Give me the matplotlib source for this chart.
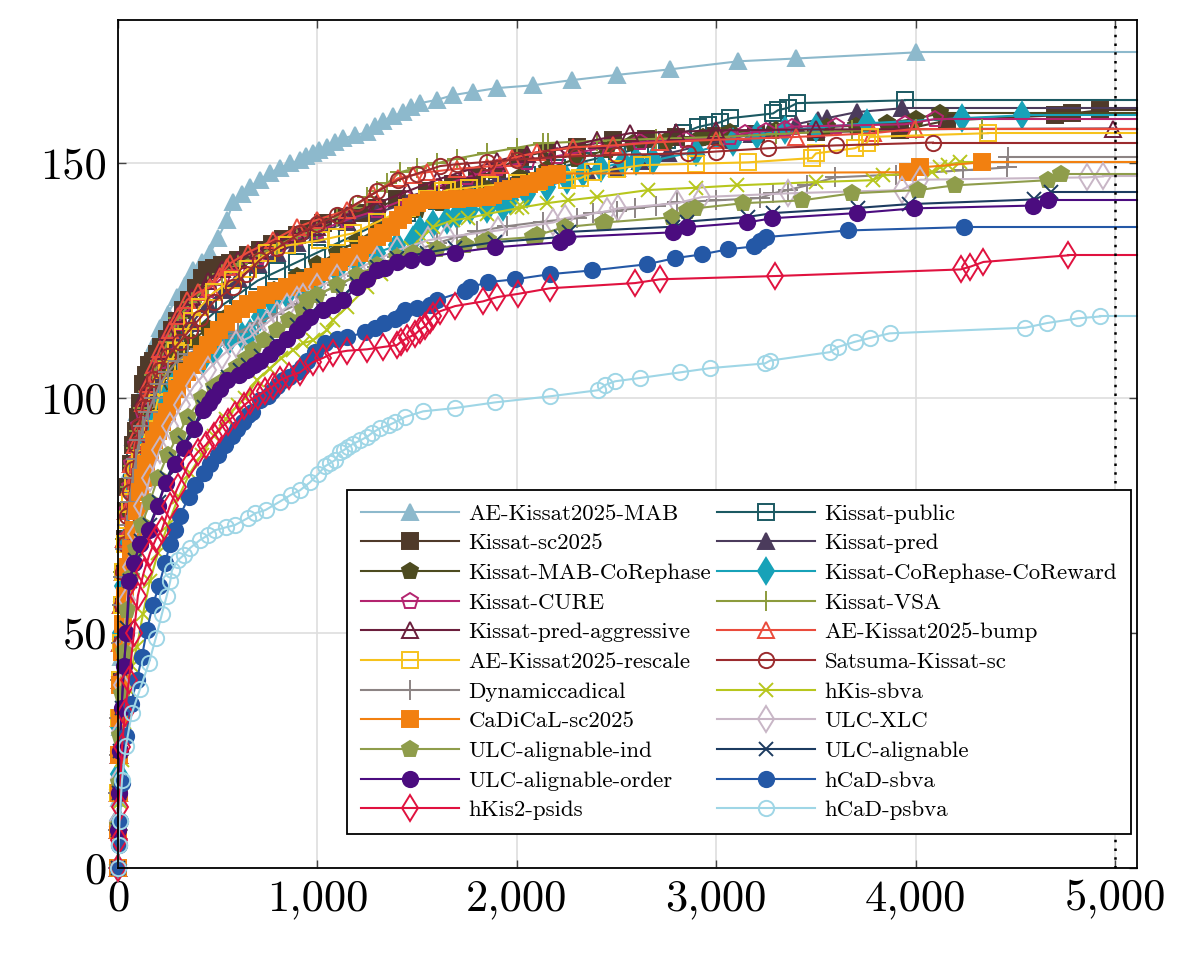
import matplotlib
matplotlib.use("Agg")
import matplotlib.pyplot as plt
from matplotlib.ticker import FuncFormatter

plt.rcParams["font.family"] = ["cmr10", "DejaVu Serif"]
plt.rcParams["axes.formatter.use_mathtext"] = True

X_MAX = 5110
Y_MAX = 180.5
TIMEOUT = 5000

# solve time (s) / number of solved instances
ae_mab_x = [0, 3, 8, 15, 25, 40, 60, 75, 95, 110, 135, 160, 185, 210, 250, 296, 336, 376, 420, 461, 500, 547, 577, 620, 662, 712, 762, 813, 863, 913, 945, 978, 1010, 1048, 1090, 1128, 1190, 1249, 1290, 1329, 1380, 1429, 1470, 1515, 1600, 1680, 1780, 1900, 2081, 2277, 2500, 2770, 3110, 3400, 4000]
ae_mab_y = [0, 15, 30, 45, 58, 70, 84.7, 91.7, 97, 100.2, 105, 109.6, 112, 115, 118, 121.5, 124, 127.2, 129, 130.8, 134, 137.9, 141.7, 143.5, 145, 146.5, 148, 149, 150, 150.6, 151.5, 152.1, 152.8, 153.4, 154.5, 155.3, 156, 156.6, 158, 159.1, 160, 160.9, 162, 162.8, 163.5, 164.5, 165.2, 166, 166.6, 167.7, 168.8, 170, 171.7, 172.3, 173.6]

kissat_public_x = [0, 1, 3, 5, 8, 12, 17, 24, 32, 42, 54, 68, 84, 100, 125, 150, 180, 210, 250, 300, 360, 450, 530, 600, 700, 800, 900, 1000, 1150, 1300, 1450, 1600, 1750, 1900, 2050, 2200, 2350, 2500, 2620, 2753, 2833, 2908, 2960, 3020, 3070, 3285, 3310, 3360, 3405, 3945]
kissat_public_y = [0, 8, 16, 24, 32, 40, 48, 56, 63, 70, 76, 82, 87, 91, 94, 97, 100, 103, 106, 110, 113.5, 117, 120, 122, 125, 127, 129, 131, 134, 137, 139.5, 142, 144, 146, 147.5, 149, 150.5, 152, 153.2, 154.9, 156.4, 157.7, 158.2, 158.7, 159.6, 160.6, 161.3, 161.8, 162.8, 163.4]

kissat_sc2025_x = [0, 1, 2, 4, 6, 9, 13, 18, 25, 33, 42, 52, 64, 76, 88, 100, 112, 125, 140, 158, 175, 195, 215, 246, 270, 296, 326, 355, 390, 420, 446, 480, 520, 560, 600, 650, 712, 770, 830, 898, 960, 1030, 1128, 1210, 1299, 1400, 1550, 1680, 1800, 1900, 2016, 2150, 2300, 2482, 2650, 2800, 3000, 3200, 3500, 3920, 4157, 4700, 4785, 4925]
kissat_sc2025_y = [0, 8, 16, 24, 32, 40, 48, 56, 63, 70, 76, 81, 86, 90, 93, 96, 99, 103, 105, 107, 108, 109.5, 110.9, 112.5, 114.5, 116.5, 118.7, 121, 123.5, 125.5, 127.2, 127.8, 128.3, 128.8, 129.5, 130.5, 131.5, 132.8, 133.8, 134.8, 136, 137.2, 138.5, 139.5, 140.5, 142.3, 144, 145.6, 147, 148.5, 151.3, 152.5, 153.5, 154.9, 155.2, 155.5, 155.8, 156.3, 156.6, 157, 159.1, 160.2, 160.6, 161.3]

kissat_pred_x = [0, 1, 3, 5, 8, 12, 17, 24, 33, 44, 57, 72, 90, 108, 125, 150, 180, 210, 250, 300, 370, 450, 530, 600, 700, 800, 900, 1000, 1150, 1300, 1450, 1600, 1750, 1900, 2050, 2200, 2350, 2502, 2620, 2758, 2900, 3050, 3180, 3270, 3400, 3510, 3555, 3705, 3930]
kissat_pred_y = [0, 8, 16, 24, 32, 40, 48, 56, 63, 70, 76, 81, 86, 90, 93, 97, 100.5, 104, 108, 112, 116, 120, 123, 125.5, 128.5, 131, 133, 135, 137.5, 139.5, 141.5, 143.5, 145, 146.5, 147.2, 147.8, 148.4, 149, 150.5, 152.1, 153.5, 155, 156.2, 157, 158.3, 159.3, 159.6, 160.9, 161.7]

mab_corephase_x = [0, 1, 2, 4, 7, 11, 16, 22, 30, 40, 52, 66, 82, 100, 125, 160, 210, 255, 300, 370, 450, 550, 662, 780, 900, 1000, 1100, 1200, 1300, 1400, 1500, 1620, 1730, 1850, 2016, 2150, 2300, 2450, 2583, 2750, 2918, 2933, 3070, 3300, 3510, 3555, 3700, 3855, 4000, 4122]
mab_corephase_y = [0, 8, 16, 24, 32, 40, 48, 56, 63, 70, 76, 81, 85, 89, 93, 97, 102, 105.5, 109, 112, 115, 117.5, 120, 123, 126, 128.5, 131, 133.5, 136, 138, 140, 141.5, 142.8, 144.5, 147, 148.8, 151, 152.8, 154.3, 154.8, 155.3, 155.6, 156.6, 157, 157.4, 157.7, 158, 158.5, 159.5, 160.6]

corephase_coreward_x = [0, 1, 3, 6, 10, 16, 25, 40, 60, 85, 120, 160, 220, 280, 350, 420, 480, 560, 620, 662, 712, 777, 850, 920, 1000, 1100, 1200, 1300, 1400, 1479, 1515, 1580, 1650, 1700, 1765, 1850, 1930, 1966, 2050, 2150, 2250, 2332, 2420, 2532, 2600, 2683, 2900, 3085, 3205, 3345, 3500, 3755, 4232, 4533]
corephase_coreward_y = [0, 10, 20, 30, 40, 50, 60, 70, 80, 86, 90, 95, 100, 103, 106, 108, 110, 112.5, 113.3, 113.8, 117.2, 120.2, 122, 123.5, 125, 127, 129, 131, 132.5, 133.6, 135.7, 137, 137.9, 139, 140, 140.3, 140.6, 142.1, 143.5, 145, 146.5, 147.9, 149, 150.2, 150.4, 150.6, 152.5, 154.5, 156, 157, 157.6, 158.5, 159.6, 160.2]

cure_x = [0, 1, 2, 4, 6, 9, 13, 18, 25, 34, 45, 58, 72, 90, 108, 125, 150, 180, 210, 250, 300, 370, 450, 520, 600, 700, 800, 900, 1000, 1150, 1300, 1450, 1600, 1750, 1900, 2050, 2200, 2400, 2618, 2850, 3070, 3145, 3250, 3345, 3380, 3600, 3945, 4097]
cure_y = [0, 8, 16, 24, 32, 40, 48, 56, 63, 70, 76, 81, 86, 90, 94, 97, 100.5, 104.5, 108, 112, 116, 119.5, 123, 125.5, 128, 130, 132, 134, 135.5, 138, 140, 142.5, 145, 147, 149, 150.3, 151.5, 153, 154.5, 155, 155.6, 156.4, 156.9, 157.4, 157.8, 158, 158.3, 159.4]

vsa_x = [0, 1, 2, 4, 6, 9, 13, 18, 25, 34, 45, 58, 73, 90, 108, 125, 150, 180, 210, 250, 300, 370, 450, 520, 600, 700, 800, 900, 1000, 1100, 1180, 1249, 1300, 1349, 1414, 1500, 1600, 1700, 1850, 2000, 2132, 2157, 2400, 2700, 3020, 3300, 3680, 4000, 4333]
vsa_y = [0, 8, 16, 24, 32, 40, 48, 56, 63, 70, 76, 81, 85.5, 89.5, 93, 98, 101.5, 105, 108, 112, 117, 120.5, 124, 126.5, 128.5, 130.5, 132.5, 134.5, 136, 138.5, 140.5, 142.8, 144, 145.7, 148.1, 149, 150, 151, 152.2, 153.3, 154.3, 154.3, 154.8, 155.2, 155.6, 156.2, 157, 157.2, 157.4]

pred_aggr_x = [0, 1, 2, 3, 5, 8, 12, 17, 23, 31, 41, 53, 67, 83, 100, 125, 150, 180, 210, 250, 300, 370, 450, 520, 600, 700, 800, 900, 1000, 1150, 1300, 1450, 1600, 1750, 1900, 2050, 2200, 2400, 2568, 2800, 3000, 3500, 4990]
pred_aggr_y = [0, 8, 16, 24, 32, 40, 48, 56, 63, 70, 76, 81, 86, 90, 93, 100, 103.5, 107, 110, 114, 118, 121.5, 125, 127.5, 129.5, 131.5, 133.5, 135, 136.5, 139, 141.5, 144, 146.5, 148.5, 150.5, 152, 153, 155, 156.4, 156.7, 157, 157.2, 157.4]

bump_x = [0, 1, 2, 3, 5, 8, 12, 17, 23, 31, 41, 53, 67, 83, 100, 125, 150, 180, 210, 260, 300, 346, 400, 461, 510, 547, 562, 650, 777, 898, 1000, 1148, 1280, 1404, 1480, 1550, 1700, 1850, 1915, 1976, 2100, 2282, 2482, 2718, 3000, 3400, 3785, 3995]
bump_y = [0, 8, 16, 24, 32, 40, 48, 56, 63, 70, 76, 81, 86, 90, 93, 99, 103, 107, 110.5, 114.5, 117.5, 120.9, 122.5, 123.6, 126, 127.9, 128.7, 131, 133.6, 136.4, 138, 140, 143.5, 146.8, 147.5, 148.1, 148.8, 149.3, 149.6, 151.1, 152.3, 153.4, 153.8, 154.5, 155, 155.6, 156.4, 157.3]

rescale_x = [0, 1, 2, 4, 6, 9, 13, 18, 25, 34, 45, 58, 73, 90, 110, 145, 170, 195, 220, 246, 290, 326, 370, 411, 480, 577, 650, 747, 850, 1013, 1100, 1179, 1300, 1450, 1550, 1630, 1650, 1760, 1865, 2000, 2100, 2252, 2317, 2382, 2500, 2628, 2900, 3160, 3480, 3500, 3695, 3755, 3770, 4363]
rescale_y = [0, 8, 16, 24, 32, 40, 48, 56, 63, 69, 74, 78, 82, 85, 87, 88.3, 93.5, 98.9, 102.5, 106, 110, 113, 116.5, 119.4, 122.5, 125.1, 127.5, 130.9, 132.5, 133.6, 134.4, 135.1, 137.5, 140.5, 142.5, 144, 144.3, 144.8, 145.3, 145.8, 146.1, 146.4, 146.8, 148.1, 148.8, 149.6, 149.9, 150.2, 151.1, 152.1, 153.2, 154.3, 155.6, 156.4]

satsuma_x = [0, 1, 2, 4, 6, 9, 13, 18, 25, 34, 45, 60, 75, 90, 108, 125, 150, 180, 210, 250, 311, 360, 411, 480, 577, 640, 712, 800, 913, 1000, 1100, 1200, 1300, 1404, 1500, 1615, 1700, 1850, 2000, 2150, 2302, 2500, 2858, 3000, 3260, 3600, 4087]
satsuma_y = [0, 8, 16, 24, 32, 40, 48, 56, 63, 69, 75, 80, 85, 90, 94, 98, 101, 104, 106, 109, 112, 114.5, 117, 120.5, 123.6, 126.5, 129.4, 132, 135.1, 137, 139, 141.5, 144, 146.4, 147.8, 149.4, 149.8, 150.3, 150.8, 151.2, 151.5, 151.8, 152.1, 152.5, 153.2, 153.8, 154.4]

dyncad_x = [0, 1, 2, 4, 6, 9, 13, 18, 25, 34, 45, 58, 73, 90, 108, 125, 150, 180, 210, 250, 300, 350, 411, 461, 530, 600, 700, 800, 900, 1000, 1100, 1200, 1300, 1400, 1500, 1600, 1700, 1800, 1950, 2132, 2302, 2382, 2500, 2593, 2700, 2803, 3000, 3220, 3285, 3360, 3455, 3595, 3900, 4237, 4458, 4463]
dyncad_y = [0, 8, 16, 24, 32, 40, 48, 56, 62, 68, 73, 78, 83, 87, 91, 94, 97, 100, 103, 105.5, 108, 109.5, 110.5, 111.5, 112.8, 114, 116, 118, 120, 122, 124, 126, 128, 130, 131.6, 133, 134.3, 135.5, 136.6, 137.6, 138.3, 139.4, 139.9, 140.4, 141, 141.7, 142.1, 142.6, 143.6, 144.3, 145.3, 147, 147.6, 148.5, 149.1, 151.3]

hkis_sbva_x = [0, 3, 8, 18, 30, 50, 70, 95, 125, 160, 200, 250, 304, 360, 420, 480, 540, 600, 637, 697, 760, 820, 880, 928, 978, 1048, 1078, 1150, 1249, 1320, 1404, 1470, 1524, 1580, 1680, 1755, 1850, 2001, 2026, 2150, 2257, 2400, 2658, 2900, 3105, 3500, 3785, 3835, 4082, 4122, 4162, 4222]
hkis_sbva_y = [0, 7, 14, 23, 31, 38, 43, 47, 54, 61, 67, 73, 79, 84, 88, 92, 95.5, 98.5, 100, 103.8, 106.3, 108.5, 110.3, 111.7, 112.3, 114.5, 116.6, 119.5, 123.6, 126.5, 129.4, 132, 134.3, 136.4, 137.9, 138.3, 139.2, 140.4, 140.6, 141.5, 142.1, 142.8, 144.3, 144.8, 145.3, 146, 146.4, 147.4, 148.1, 149.1, 149.7, 150.2]

cadical_x = [0, 1, 3, 5, 8, 12, 18, 25, 35, 50, 65, 80, 95, 110, 125, 140, 160, 180, 200, 220, 245, 270, 296, 320, 345, 370, 396, 420, 450, 476, 505, 540, 577, 615, 650, 697, 740, 790, 847, 900, 940, 978, 1020, 1063, 1110, 1160, 1214, 1250, 1299, 1330, 1370, 1404, 1430, 1470, 1499, 1560, 1620, 1700, 1780, 1850, 1880, 1930, 1970, 2016, 2060, 2110, 2140, 2167, 2200, 3962, 4022, 4333]
cadical_y = [0, 8, 16, 24, 32, 39, 46, 52, 58, 64, 68, 72, 76, 80, 83, 86, 88.5, 91, 93, 95, 97, 99.5, 102, 104, 105.5, 107, 108, 109.5, 111.3, 113, 114.5, 116.3, 118, 119, 120, 121, 122, 122.8, 123.6, 124.5, 125, 125.7, 126.8, 128, 129, 130, 131, 132.6, 134.3, 135.2, 136.5, 137.9, 139, 140.6, 141.5, 142.1, 142.1, 142.3, 142.6, 142.8, 143.3, 144, 144.5, 144.9, 145.5, 146.3, 147, 147.4, 147.8, 148.1, 149.1, 150.2]

ulc_xlc_x = [0, 2, 5, 10, 18, 30, 45, 65, 90, 120, 160, 210, 260, 320, 380, 450, 520, 590, 662, 700, 747, 800, 850, 898, 928, 998, 1100, 1200, 1300, 1400, 1555, 1650, 1905, 2182, 2242, 2452, 2507, 2803, 2928, 3360, 3930, 4022, 4860, 4940]
ulc_xlc_y = [0, 10, 19, 29, 39, 48, 57, 64, 71, 77, 83, 89, 94, 98.5, 102.5, 106, 109, 111.5, 113, 114.5, 116, 117.8, 119.5, 120.9, 121.5, 123.6, 125.5, 127.5, 129.5, 131.5, 133.6, 134.3, 135.7, 137.4, 138.3, 139.8, 140.4, 141.5, 142.8, 143.6, 144.3, 146.5, 147, 147.2]

ulc_ind_x = [0, 2, 5, 10, 18, 30, 45, 65, 90, 120, 160, 200, 250, 300, 350, 420, 480, 512, 557, 597, 640, 677, 730, 797, 860, 928, 948, 1000, 1100, 1200, 1300, 1400, 1479, 1600, 1740, 1830, 1855, 2081, 2101, 2242, 2432, 2442, 2778, 2853, 2893, 3135, 3430, 3680, 4012, 4197, 4665, 4730]
ulc_ind_y = [0, 9, 18, 28, 37, 46, 55, 62, 68, 73, 78, 83, 88, 92, 96, 100, 102.4, 103.2, 104.8, 106.6, 108.4, 110.2, 112.3, 114.5, 116.6, 118.7, 120.9, 122, 124, 126.2, 128.3, 130, 130.8, 131.8, 132.6, 133.2, 133.6, 134.3, 134.7, 136.4, 137.2, 137.4, 138.5, 139.8, 140.4, 141.5, 142.1, 143.6, 144.3, 145.3, 146.4, 147.7]

ulc_align_x = [0, 2, 5, 10, 18, 30, 45, 60, 85, 115, 160, 205, 245, 290, 335, 385, 430, 480, 550, 610, 650, 715, 800, 900, 965, 1030, 1130, 1200, 1300, 1400, 1550, 1690, 1890, 2220, 2260, 2785, 2855, 3160, 3285, 3710, 3965, 4595, 4680]
ulc_align_y = [0, 8, 16, 25, 34, 43, 51, 61, 65.5, 69.5, 73, 78, 83, 87, 90.5, 94.5, 98.2, 101, 104.5, 106, 107, 109, 111.8, 115.5, 118, 119.6, 121.8, 124.4, 128, 129.8, 131, 132, 133.2, 134.3, 135.4, 136.5, 137.6, 138.6, 139.4, 140.5, 141.3, 142.3, 143.8]

ulc_order_x = [0, 2, 5, 10, 18, 30, 42, 55, 80, 110, 155, 200, 240, 287, 330, 380, 426, 455, 476, 510, 547, 605, 647, 680, 712, 760, 797, 850, 898, 930, 963, 1028, 1080, 1128, 1198, 1250, 1299, 1340, 1399, 1470, 1550, 1690, 1890, 2217, 2252, 2783, 2853, 3155, 3280, 3705, 3990, 4590, 4665]
ulc_order_y = [0, 8, 16, 25, 34, 43, 50, 61, 65, 69, 72, 77, 82, 86, 89.5, 93.5, 97.4, 99, 100.2, 102, 103.8, 105, 106, 107, 108, 109.5, 110.9, 112.7, 114.5, 116, 117.2, 118.7, 119.8, 120.9, 123.6, 125.4, 127.2, 127.8, 128.9, 129.5, 130, 131, 132.1, 133.2, 134.3, 135.3, 136.4, 137.4, 138.3, 139.4, 140.4, 141, 142.1]

hcad_sbva_x = [0, 3, 8, 20, 40, 65, 95, 120, 145, 175, 205, 237, 261, 287, 311, 355, 386, 430, 461, 500, 537, 570, 597, 625, 652, 672, 712, 750, 772, 800, 828, 860, 898, 925, 948, 988, 1038, 1100, 1148, 1239, 1290, 1334, 1390, 1425, 1440, 1500, 1565, 1600, 1740, 1765, 1855, 1990, 2167, 2378, 2652, 2792, 2927, 3060, 3190, 3220, 3250, 3660, 4240]
hcad_sbva_y = [0, 5, 10, 18, 28, 35, 40, 45, 50.6, 56, 60, 65, 69, 72, 75, 79, 81.5, 84, 86, 88, 90, 92, 93.5, 95, 96.5, 97, 99.6, 100.5, 101.5, 102.5, 103.8, 104.6, 105.5, 106.7, 108, 109.8, 111.7, 112.5, 113, 114, 115, 116, 116.8, 117.7, 118.7, 119.3, 119.8, 120.9, 122.8, 123.6, 124.7, 125.3, 126.4, 127.2, 128.5, 129.8, 130.6, 131.7, 132.3, 133.4, 134.3, 135.7, 136.4]

hkis2_x = [0, 3, 8, 20, 35, 55, 80, 100, 130, 160, 190, 220, 260, 300, 355, 400, 440, 480, 512, 550, 587, 630, 662, 700, 737, 775, 812, 860, 913, 978, 1030, 1078, 1150, 1249, 1330, 1399, 1420, 1450, 1490, 1515, 1540, 1565, 1580, 1615, 1690, 1830, 1900, 2006, 2167, 2593, 2718, 3295, 4225, 4275, 4340, 4765]
hkis2_y = [0, 6, 13, 25.7, 33, 40, 50, 58, 63, 67, 70, 72, 77, 81, 86, 88.5, 90, 92, 93.5, 95, 96.5, 98.4, 99.5, 100.4, 101.5, 102.5, 103.8, 104.7, 105.5, 107.7, 108.6, 109.6, 110.1, 110.4, 110.9, 111.3, 112, 112.8, 113.6, 114.6, 115.3, 116.6, 117.4, 118.5, 119.6, 120.6, 121.5, 122.2, 123.4, 124.5, 125.3, 126, 127.4, 128, 129, 130.4]

hcad_psbva_x = [0, 3, 8, 20, 40, 70, 110, 155, 190, 220, 245, 262, 271, 300, 330, 361, 411, 450, 487, 540, 587, 652, 687, 740, 812, 870, 913, 963, 1003, 1038, 1065, 1088, 1113, 1135, 1153, 1180, 1214, 1250, 1274, 1314, 1360, 1390, 1440, 1530, 1690, 1890, 2167, 2408, 2443, 2493, 2618, 2820, 2970, 3245, 3270, 3570, 3610, 3695, 3770, 3870, 4550, 4660, 4815, 4925]
hcad_psbva_y = [0, 5, 10, 18.7, 26, 33, 38, 43.6, 49, 54, 58, 61, 63.4, 65.5, 66.6, 68.1, 69.8, 70.8, 71.9, 72.5, 73, 74.5, 75.5, 76.2, 78, 79.5, 80.4, 82.1, 83.8, 85.5, 86.2, 86.8, 88.5, 89, 89.6, 90.3, 91, 91.8, 92.6, 93.6, 94.3, 94.9, 96, 97.2, 97.9, 99.1, 100.4, 101.7, 102.8, 103.6, 104.3, 105.5, 106.4, 107.4, 108, 109.8, 110.9, 112, 112.8, 113.8, 115, 116, 117, 117.4]

# drawing order = legend order (row by row)
series = [
    ("AE-Kissat2025-MAB", ae_mab_x, ae_mab_y, "#8db9cc", "^", True, 12),
    ("Kissat-public", kissat_public_x, kissat_public_y, "#1b5962", "s", False, 11),
    ("Kissat-sc2025", kissat_sc2025_x, kissat_sc2025_y, "#4f3a2a", "s", True, 11),
    ("Kissat-pred", kissat_pred_x, kissat_pred_y, "#4b3b5c", "^", True, 12),
    ("Kissat-MAB-CoRephase", mab_corephase_x, mab_corephase_y, "#4d4b20", "p", True, 12),
    ("Kissat-CoRephase-CoReward", corephase_coreward_x, corephase_coreward_y, "#17a2b8", "d", True, 13),
    ("Kissat-CURE", cure_x, cure_y, "#b3246f", "p", False, 12),
    ("Kissat-VSA", vsa_x, vsa_y, "#8c9b3c", "+", True, 14),
    ("Kissat-pred-aggressive", pred_aggr_x, pred_aggr_y, "#6b1e3c", "^", False, 12),
    ("AE-Kissat2025-bump", bump_x, bump_y, "#ea4b3c", "^", False, 12),
    ("AE-Kissat2025-rescale", rescale_x, rescale_y, "#f6c21c", "s", False, 11),
    ("Satsuma-Kissat-sc", satsuma_x, satsuma_y, "#9b2b2e", "o", False, 11),
    ("Dynamiccadical", dyncad_x, dyncad_y, "#8c8484", "+", True, 14),
    ("hKis-sbva", hkis_sbva_x, hkis_sbva_y, "#b7c61d", "x", True, 10),
    ("CaDiCaL-sc2025", cadical_x, cadical_y, "#f28010", "s", True, 11),
    ("ULC-XLC", ulc_xlc_x, ulc_xlc_y, "#c8b6c6", "d", False, 13),
    ("ULC-alignable-ind", ulc_ind_x, ulc_ind_y, "#8f9d4b", "p", True, 12),
    ("ULC-alignable", ulc_align_x, ulc_align_y, "#1c3b60", "x", True, 10),
    ("ULC-alignable-order", ulc_order_x, ulc_order_y, "#4b0c7f", "o", True, 11),
    ("hCaD-sbva", hcad_sbva_x, hcad_sbva_y, "#2458a6", "o", True, 11),
    ("hKis2-psids", hkis2_x, hkis2_y, "#e0123f", "d", False, 13),
    ("hCaD-psbva", hcad_psbva_x, hcad_psbva_y, "#9fd6e6", "o", False, 11),
]

fig = plt.figure(figsize=(12, 9.6), dpi=100)
ax = fig.add_axes([0.0983, 0.0958, 0.8492, 0.8834])

handles = []
for label, xs, ys, color, marker, filled, ms in series:
    # horizontal continuation after the last solved instance
    ax.plot([xs[-1], X_MAX], [ys[-1], ys[-1]], color=color, lw=1.5, clip_on=False)
    h, = ax.plot(xs, ys, color=color, lw=1.5, marker=marker, markersize=ms,
                 markerfacecolor=color if filled else "none",
                 markeredgecolor=color, markeredgewidth=1.4,
                 label=label, clip_on=False)
    handles.append(h)

ax.axvline(TIMEOUT, color="black", lw=1.8, ls=(0, (1, 2.5)))

ax.set_xlim(0, X_MAX)
ax.set_ylim(0, Y_MAX)
ax.set_xticks([0, 1000, 2000, 3000, 4000, 5000])
ax.set_yticks([0, 50, 100, 150])
ax.xaxis.set_major_formatter(FuncFormatter(lambda v, p: f"{v:,.0f}"))
ax.yaxis.set_major_formatter(FuncFormatter(lambda v, p: f"{v:,.0f}"))
ax.tick_params(labelsize=32, direction="in", length=6, width=1.0,
               top=True, right=True, color="#444444", pad=8)
ax.grid(True, color="#dedede", lw=1.2)
ax.set_axisbelow(True)
for sp in ax.spines.values():
    sp.set_linewidth(1.3)

# matplotlib fills legend columns first, pgfplots fills rows first
order = handles[0::2] + handles[1::2]
leg = ax.legend(order, [h.get_label() for h in order], ncol=2, loc="lower right",
                bbox_to_anchor=(0.994, 0.040), borderaxespad=0, fontsize=16.5,
                fancybox=False, framealpha=1, edgecolor="black",
                handlelength=4.3, handletextpad=0.4, columnspacing=0.25,
                labelspacing=0.42, borderpad=0.6)
leg.get_frame().set_linewidth(1.3)

fig.savefig("out.png", dpi=100)
